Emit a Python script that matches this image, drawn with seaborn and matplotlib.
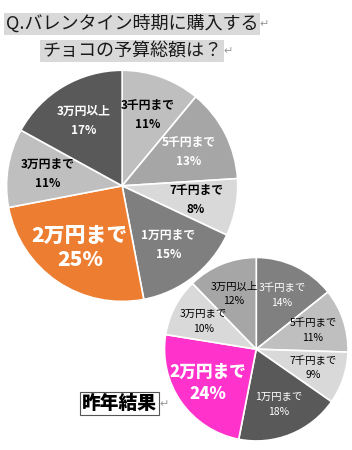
import matplotlib
matplotlib.use('Agg')
import matplotlib.pyplot as plt
import seaborn as sns

sns.set_theme(style='white')
plt.rcParams['font.family'] = ['Noto Sans CJK JP', 'DejaVu Sans']

# 予算のカテゴリと割合 (%)
categories = ['3千円まで', '5千円まで', '7千円まで', '1万円まで', '2万円まで', '3万円まで', '3万円以上']
this_year = [11, 13, 8, 15, 25, 11, 17]
last_year = [14, 11, 9, 18, 24, 10, 12]

colors_this = ['#bfbfbf', '#a6a6a6', '#d9d9d9', '#7f7f7f', '#ed7d31', '#bfbfbf', '#595959']
colors_last = ['#808080', '#bfbfbf', '#d9d9d9', '#595959', '#ff33cc', '#d9d9d9', '#a6a6a6']
text_this = ['black', 'white', 'black', 'white', 'white', 'black', 'white']
text_last = ['white', 'black', 'black', 'white', 'white', 'black', 'black']
highlight = '2万円まで'

fig = plt.figure(figsize=(3.52, 4.5), dpi=100)


def draw_pie(ax, values, colors, tcolors, small_size, big_size, weight):
    labels = [f'{c}\n{v}%' for c, v in zip(categories, values)]
    wedges, texts = ax.pie(values, colors=colors, labels=labels, startangle=90,
                           counterclock=False, labeldistance=0.65,
                           wedgeprops=dict(edgecolor='white', linewidth=1.2))
    for t, c, cat in zip(texts, tcolors, categories):
        t.set_color(c)
        t.set_horizontalalignment('center')
        t.set_verticalalignment('center')
        t.set_linespacing(1.6)
        if cat == highlight:
            t.set_fontsize(big_size)
            t.set_fontweight('heavy')
            t.set_linespacing(1.3)
        else:
            t.set_fontsize(small_size)
            t.set_fontweight(weight)
    ax.set_xlim(-1.02, 1.02)
    ax.set_ylim(-1.02, 1.02)
    ax.set_aspect('equal')
    ax.axis('off')


def return_mark(t, gap):
    # 改行マーク (↵) をテキストの右に置く
    fig.canvas.draw()
    bb = t.get_window_extent().transformed(fig.transFigure.inverted())
    fig.text(bb.x1 + gap, (bb.y0 + bb.y1) / 2, '↵', fontsize=8, color='#999999',
             ha='left', va='center')


ax1 = fig.add_axes([0.012, 0.325, 0.67, 0.524])
draw_pie(ax1, this_year, colors_this, text_this, 8.5, 15, 'bold')

ax2 = fig.add_axes([0.462, 0.016, 0.532, 0.416])
draw_pie(ax2, last_year, colors_last, text_last, 7.5, 12, 'normal')

# タイトル
hl = dict(boxstyle='square,pad=0.1', facecolor='#d9d9d9', edgecolor='none')
t1 = fig.text(0.375, 0.947, 'Q.バレンタイン時期に購入する', ha='center', va='center',
              fontsize=13, color='#1a1a1a', bbox=hl)
t2 = fig.text(0.375, 0.887, 'チョコの予算総額は？', ha='center', va='center',
              fontsize=13, color='#1a1a1a', bbox=hl)
return_mark(t1, 0.004)
return_mark(t2, 0.004)

t3 = fig.text(0.34, 0.103, '昨年結果', ha='center', va='center', fontsize=13.5,
              fontweight='heavy', color='black',
              bbox=dict(boxstyle='square,pad=0.12', facecolor='white',
                        edgecolor='#555555', linewidth=0.8))
return_mark(t3, 0.006)

fig.savefig('out.png', dpi=100)
